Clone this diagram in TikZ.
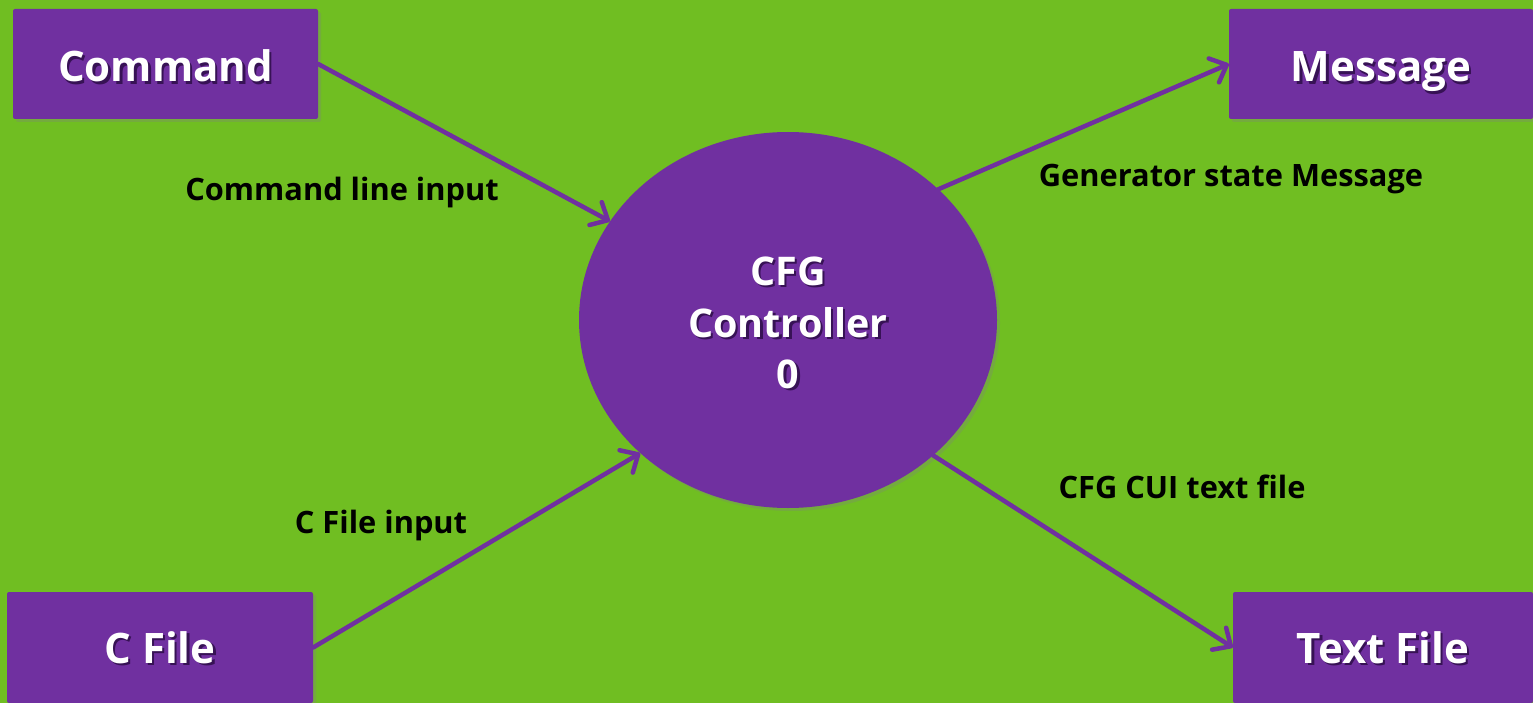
\documentclass[tikz,border=0pt]{standalone}
\usepackage{fontspec}
\setmainfont{Open Sans}
\usetikzlibrary{arrows.meta,shapes.geometric,shadows}

\definecolor{bggreen}{RGB}{112,190,34}
\definecolor{dfdpurple}{RGB}{112,48,160}
\definecolor{textshade}{RGB}{55,18,85}

% white heading text with an offset shadow
\newcommand\shadedtxt[1]{\rlap{\kern2.4pt\raisebox{-2.4pt}{\textcolor{textshade}{#1}}}#1}

\tikzset{
  entity/.style={draw=none, fill=dfdpurple, rounded corners=2pt, inner sep=0pt,
    text=white, font=\fontsize{42}{46}\selectfont\bfseries, text depth=0pt,
    drop shadow={opacity=0.3, shadow xshift=3pt, shadow yshift=-3pt}},
  process/.style={ellipse, draw=none, fill=dfdpurple, inner sep=0pt,
    minimum width=418pt, minimum height=376pt, text=white,
    font=\fontsize{39.5}{51.5}\selectfont\bfseries,
    drop shadow={opacity=0.3, shadow xshift=3pt, shadow yshift=-3pt}},
  flow/.style={draw=dfdpurple, line width=4.5pt, line cap=round,
    -{Straight Barb[length=14pt, width=26pt, line width=4.5pt, round]}},
  flowlabel/.style={text=black, font=\fontsize{30.8}{36}\selectfont\bfseries,
    inner sep=0pt, anchor=base}
}

\begin{document}
\begin{tikzpicture}[x=1pt, y=-1pt]
  % canvas
  \fill[bggreen] (0,0) rectangle (1533,703);
  \useasboundingbox (0,0) rectangle (1533,703);

  % external entities
  \node[entity, minimum width=305pt, minimum height=110pt, text height=36pt] (cmd)   at (165.5,64)  {\shadedtxt{Command}};
  \node[entity, minimum width=306pt, minimum height=111pt, text height=31pt] (cfile) at (160,647.5) {\shadedtxt{C File}};
  \node[entity, minimum width=304pt, minimum height=110pt, text height=36pt] (msg)   at (1381,64)   {\shadedtxt{Message}};
  \node[entity, minimum width=300pt, minimum height=111pt, text height=31pt] (tfile) at (1383,647.5){\shadedtxt{Text File}};

  % central process, its three lines set a little below the centre
  \node[process] (ctrl) at (788,320)
    {\raisebox{-13pt}[0pt][0pt]{\begin{tabular}{@{}c@{}}\shadedtxt{CFG}\\\shadedtxt{Controller}\\\shadedtxt{0}\end{tabular}}};

  % data flows
  \draw[flow] (cmd.east) -- (ctrl.151);
  \draw[flow] (cfile.east) -- (ctrl.222);
  \draw[flow] (ctrl.41.5) -- (msg.west);
  \draw[flow] (ctrl.-43.8) -- (tfile.west);

  % flow labels (placed by baseline)
  \node[flowlabel] (l1) at (342,201)  {Command line input};
  \node[flowlabel] (l2) at (1231,187) {Generator state Message};
  \node[flowlabel] (l3) at (381,533)  {C File input};
  \node[flowlabel] (l4) at (1182,498) {CFG CUI text file};
\end{tikzpicture}
\end{document}
